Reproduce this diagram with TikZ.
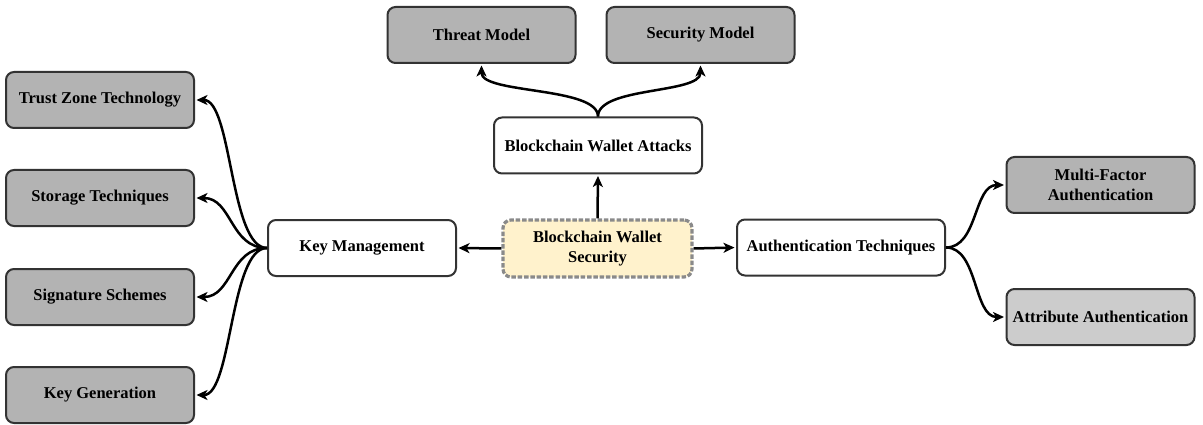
\documentclass[tikz,border=0pt]{standalone}
\usepackage{fontspec}
\setmainfont{Liberation Serif}
\usetikzlibrary{arrows.meta}
\definecolor{edgegray}{HTML}{333333}
\definecolor{darkfill}{HTML}{B3B3B3}
\definecolor{lightfill}{HTML}{CCCCCC}
\definecolor{rootfill}{HTML}{FFF2CC}
\definecolor{dashgray}{HTML}{8A8A8A}
\begin{document}
\begin{tikzpicture}[x=1pt,y=-1pt,
  box/.style={draw=edgegray, line width=2pt, rounded corners=8pt,
    minimum width=188pt, minimum height=56pt, inner sep=2pt, align=center,
    font=\fontsize{16.5}{20.5}\selectfont\bfseries},
  wide/.style={box, minimum width=208pt},
  darkbox/.style={box, fill=darkfill},
  lightbox/.style={box, fill=lightfill},
  rootbox/.style={box, fill=rootfill, draw=dashgray, line width=3.2pt,
    dash pattern=on 4.5pt off 1.8pt, minimum width=189pt, minimum height=57pt},
  link/.style={line width=2.5pt, shorten >=1.5pt,
    -{Stealth[length=11pt,width=10pt,inset=3pt]}}
]
\useasboundingbox (0,0) rectangle (1203,425);

% left column
\node[darkbox] (tz) at (100,100) {Trust Zone Technology};
\node[darkbox] (st) at (100,198) {Storage Techniques};
\node[darkbox] (ss) at (100,297) {Signature Schemes};
\node[darkbox] (kg) at (100,395) {Key Generation};
\node[box, fill=white] (km) at (362,248) {Key Management};

% centre column
\node[rootbox] (root) at (597.5,248.5) {Blockchain Wallet\\Security};
\node[wide, fill=white] (bwa) at (598,145.5) {Blockchain Wallet Attacks};
\node[darkbox] (tm) at (481.5,35) {Threat Model};
\node[darkbox] (sm) at (700.5,35) {Security Model};

% right side
\node[wide, fill=white] (at) at (841,247.5) {Authentication Techniques};
\node[darkbox] (mfa) at (1100.5,185) {Multi-Factor\\Authentication};
\node[lightbox] (aa) at (1100.5,317) {Attribute Authentication};

% straight links from the root
\draw[link] (root.north) -- (bwa.south);
\draw[link] (root.west) -- (km.east);
\draw[link] (root.east) -- (at.west);

% curved branches
\foreach \t in {tz,st,ss,kg}
  \draw[link] (km.west) .. controls +(-37,0) and +(37,0) .. (\t.east);
\foreach \t in {tm,sm}
  \draw[link] (bwa.north) .. controls +(0,-30) and +(0,30) .. (\t.south);
\foreach \t in {mfa,aa}
  \draw[link] (at.east) .. controls +(32,0) and +(-32,0) .. (\t.west);
\end{tikzpicture}
\end{document}
